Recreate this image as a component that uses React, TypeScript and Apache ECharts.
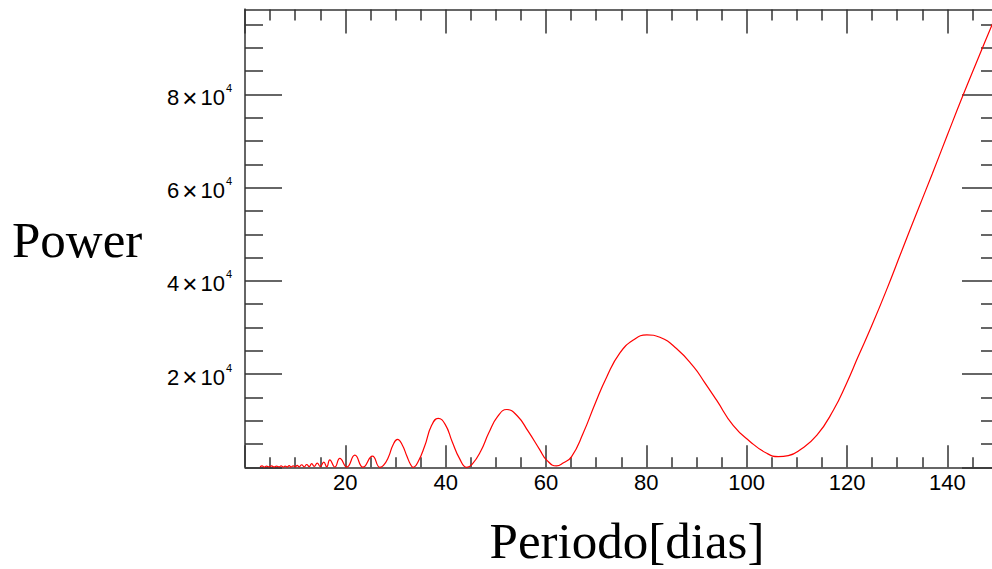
import React, { useEffect, useRef } from "react";
import * as echarts from "echarts";

const periodos: number[] = [
  3.0, 3.4, 3.8, 4.3, 4.8, 5.3, 5.8, 6.3, 6.8, 7.2, 7.6, 8.0, 8.4, 8.8, 9.2, 9.6, 10.0, 10.4, 10.8,
  11.3, 11.8, 12.3, 12.8, 13.3, 13.8, 14.4, 15.0, 15.7, 16.3, 16.9, 17.9, 18.9, 20.3, 21.9, 23.5,
  25.4, 26.9, 27.6, 28.6, 29.5, 30.4, 31.3, 32.3, 33.0, 33.5, 34.5, 35.8, 37.2, 38.5, 39.9, 41.3,
  42.8, 44.2, 45.3, 47.0, 48.6, 50.3, 52.2, 54.3, 56.4, 58.8, 60.1, 62.1, 63.4, 65.1, 67.4, 69.8,
  72.1, 74.7, 77.4, 80.1, 82.7, 86.0, 89.4, 91.5, 94.0, 97.3, 100.7, 104.0, 106.3, 108.3, 110.6,
  114.0, 117.3, 119.9, 122.2, 124.9, 128.0, 131.0, 134.0, 137.0, 140.0, 143.0, 146.0, 149.0, 152.0,
];

const potencia: number[] = [
  100, 300, 50, 250, 80, 300, 60, 250, 100, 300, 50, 250, 80, 350, 60, 300, 100, 400, 80,
  550, 100, 600, 150, 800, 200, 900, 150, 1100, 100, 1600, 50, 1900, 50, 2600, 30,
  2400, 0, 400, 2200, 4800, 6000, 4900, 2300, 600, 0, 1200, 4500, 9000, 10500, 9200, 5500,
  1800, 0, 700, 3500, 7400, 10800, 12400, 11000, 7800, 3700, 1600, 300, 900, 2300, 7300, 13700,
  19400, 24500, 27300, 28400, 27900, 25500, 21600, 18400, 14400, 9000, 5500, 3000, 2300, 2500, 3700,
  6900, 12300, 18000, 23700, 30300, 38400, 46700, 54900, 63000, 71300, 79500, 87400, 95200, 103000,
];

const xTicks: number[] = [20, 40, 60, 80, 100, 120, 140];
const yTickMantissas: number[] = [2, 4, 6, 8];

const AXIS_COLOR = "#333";
const SANS = "'Liberation Sans', Arial, Helvetica, sans-serif";
const SERIF = "'Liberation Serif', 'Times New Roman', serif";

export default function App() {
  const ref = useRef<HTMLDivElement>(null);

  useEffect(() => {
    if (!ref.current) return;
    const chart = echarts.init(ref.current, undefined, { renderer: "svg" });
    const data = periodos.map((p, i) => [p, potencia[i]]);

    const lineStyle = { color: AXIS_COLOR, width: 1.5 };

    chart.setOption({
      animation: false,
      backgroundColor: "#fff",
      grid: {
        left: 245,
        top: 1.3,
        width: 802.7,
        height: 466,
        containLabel: false,
        outerBoundsMode: "none",
      },
      xAxis: [
        {
          type: "value",
          position: "bottom",
          min: 0,
          max: 160,
          interval: 20,
          axisLine: { show: true, onZero: false, lineStyle },
          axisTick: { show: true, inside: true, length: 22, lineStyle },
          minorTick: { show: true, splitNumber: 4, length: 10, lineStyle },
          splitLine: { show: false },
          axisLabel: {
            margin: 4,
            fontSize: 22,
            fontFamily: SANS,
            color: "#000",
            formatter: (v: number) => (xTicks.includes(v) ? String(v) : ""),
          },
        },
        {
          type: "value",
          position: "top",
          offset: -8.2,
          min: 0,
          max: 160,
          interval: 20,
          axisLine: { show: true, onZero: false, lineStyle },
          axisTick: { show: true, inside: true, length: 24, lineStyle },
          minorTick: { show: true, splitNumber: 4, length: 11, lineStyle },
          splitLine: { show: false },
          axisLabel: { show: false },
        },
      ],
      yAxis: [
        {
          type: "value",
          position: "left",
          min: 0,
          max: 100000,
          interval: 20000,
          axisLine: { show: true, onZero: false, lineStyle },
          axisTick: { show: true, inside: true, length: 37, lineStyle },
          minorTick: { show: true, splitNumber: 4, length: 18, lineStyle },
          splitLine: { show: false },
          axisLabel: {
            margin: 13,
            formatter: (v: number) => {
              const m = v / 10000;
              return yTickMantissas.includes(m) ? `{a|${m}}{x|×}{a|10}{b|4}` : "";
            },
            rich: {
              a: { fontSize: 22, fontFamily: SANS, color: "#000", lineHeight: 24, padding: [6, 0, 0, 0] },
              x: { fontSize: 26, fontFamily: SANS, color: "#000", lineHeight: 24, padding: [6, 3, 0, 3] },
              b: { fontSize: 11, fontFamily: SANS, color: "#000", verticalAlign: "top", lineHeight: 12, padding: [0, 0, 0, 1] },
            },
          },
        },
        {
          type: "value",
          position: "right",
          offset: -48.7,
          min: 0,
          max: 100000,
          interval: 20000,
          axisLine: { show: true, onZero: false, lineStyle },
          axisTick: { show: true, inside: true, length: 37, lineStyle },
          minorTick: { show: true, splitNumber: 4, length: 18, lineStyle },
          splitLine: { show: false },
          axisLabel: { show: false },
        },
      ],
      series: [
        {
          type: "line",
          xAxisIndex: 0,
          yAxisIndex: 0,
          data,
          showSymbol: false,
          symbol: "none",
          smooth: 0.5,
          clip: true,
          lineStyle: { color: "#ff0000", width: 1.2 },
          z: 1,
        },
      ],
      graphic: [
        {
          type: "rect",
          left: 0,
          top: 0,
          z: 100,
          shape: { x: 0, y: 0, width: 992, height: 8.5 },
          style: { fill: "#fff" },
        },
        {
          type: "text",
          left: 12,
          top: 214,
          style: { text: "Power", font: `51px ${SERIF}`, fill: "#000" },
        },
        {
          type: "text",
          x: 627,
          y: 541,
          style: {
            text: "Periodo[dias]",
            font: `51px ${SERIF}`,
            fill: "#000",
            align: "center",
            verticalAlign: "middle",
          },
        },
      ],
    });

    return () => chart.dispose();
  }, []);

  return (
    <div
      ref={ref}
      style={{ position: "fixed", left: 0, top: 0, width: 992, height: 569 }}
    />
  );
}
